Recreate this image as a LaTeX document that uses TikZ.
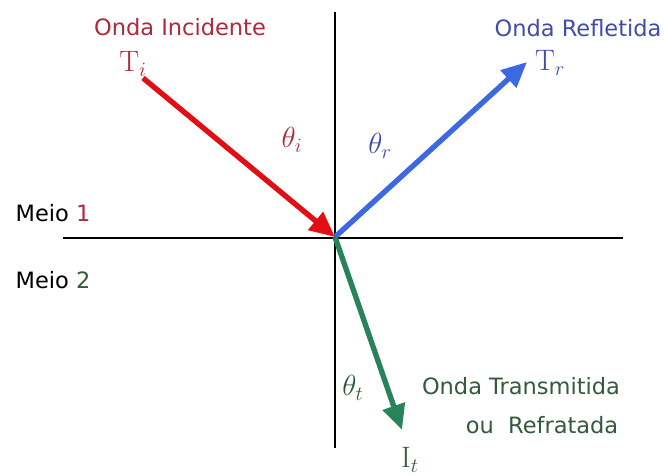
\documentclass[tikz,border=0pt]{standalone}
\usepackage{fontspec}
\setsansfont{DejaVu Sans}
\usepackage{tikz}
\usetikzlibrary{arrows.meta}
\definecolor{inc}{RGB}{225,15,20}
\definecolor{refl}{RGB}{60,105,225}
\definecolor{trans}{RGB}{40,130,90}
\definecolor{inctxt}{RGB}{175,40,60}
\definecolor{refltxt}{RGB}{65,75,170}
\definecolor{transtxt}{RGB}{50,90,60}

\begin{document}
\begin{tikzpicture}[x=0.025cm,y=-0.025cm,
  wave/.style={line width=3.8pt,-{Triangle[length=18pt,width=16pt]}},
  lbl/.style={font=\sffamily\fontsize{16}{18}\selectfont},
  ang/.style={font=\fontsize{21}{24}\selectfont}]
  \useasboundingbox (0,0) rectangle (665,475);
  % axes
  \coordinate (o) at (335,237);
  \coordinate (ytop) at (335,12); \coordinate (ybot) at (335,448);
  \coordinate (xl) at (63,238); \coordinate (xr) at (623,238);
  \draw[line width=2pt] (xl) -- (xr);
  \draw[line width=2pt] (ytop) -- (ybot);
  % waves
  \coordinate (ti) at (143,78); \coordinate (tr) at (527,62); \coordinate (it) at (402,430);
  \draw[wave,inc] (ti) -- (o);
  \draw[wave,refl] (o) -- (tr);
  \draw[wave,trans] (o) -- (it);
  % labels
  \node[lbl,text=inctxt] (inclbl) at (180,27) {Onda Incidente};
  \node[ang,text=inctxt] (tilbl) at (133,64) {$\mathrm{T}_i$};
  \node[ang,text=inctxt] (thi) at (292,140) {$\theta_i$};
  \node[lbl,text=refltxt] (refllbl) at (578,28) {Onda Refletida};
  \node[ang,text=refltxt] (trlbl) at (550,63) {$\mathrm{T}_r$};
  \node[ang,text=refltxt] (thr) at (380,146) {$\theta_r$};
  \node[lbl] (m1) at (53,213) {Meio \textcolor{inctxt}{1}};
  \node[lbl] (m2) at (53,280) {Meio \textcolor{transtxt}{2}};
  \node[ang,text=transtxt] (tht) at (353,388) {$\theta_t$};
  \node[lbl,text=transtxt] (trlbl2) at (521,386) {Onda Transmitida};
  \node[lbl,text=transtxt] (refr) at (542,425) {ou\ \ Refratada};
  \node[ang,text=transtxt] (itlbl) at (410,460) {$\mathrm{I}_t$};
\end{tikzpicture}
\end{document}
